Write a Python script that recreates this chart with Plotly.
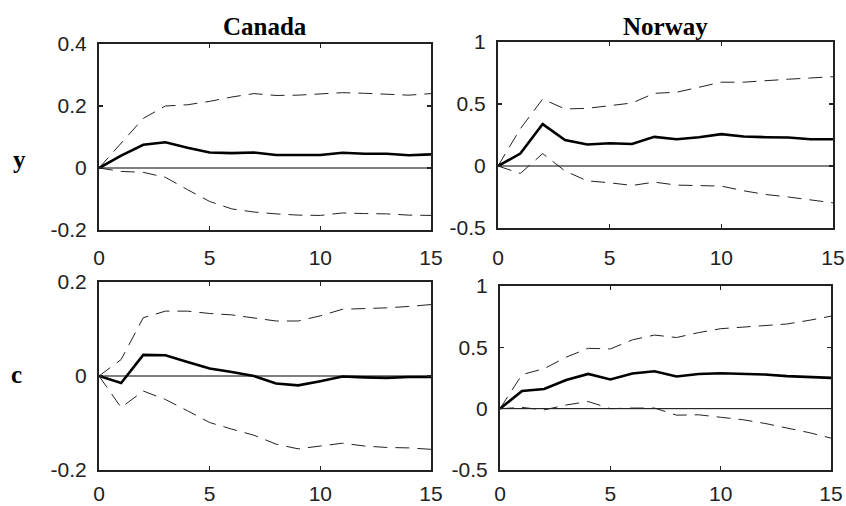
import plotly.graph_objects as go

W, H = 846, 506
OFF = 0  # body margin removed by the post script below

horizon = list(range(16))

# Canada, y
can_y_mid = [0, 0.040, 0.075, 0.083, 0.065, 0.050, 0.048, 0.050, 0.042, 0.042, 0.042, 0.049, 0.046, 0.046, 0.041, 0.044]
can_y_up = [0, 0.080, 0.160, 0.200, 0.204, 0.215, 0.229, 0.240, 0.234, 0.235, 0.239, 0.243, 0.241, 0.239, 0.235, 0.240]
can_y_lo = [0, -0.011, -0.014, -0.030, -0.070, -0.108, -0.132, -0.142, -0.148, -0.152, -0.153, -0.145, -0.147, -0.148, -0.152, -0.153]

# Norway, y
nor_y_mid = [0, 0.10, 0.338, 0.21, 0.173, 0.184, 0.178, 0.235, 0.216, 0.232, 0.257, 0.238, 0.232, 0.230, 0.216, 0.216]
nor_y_up = [0, 0.30, 0.54, 0.46, 0.465, 0.486, 0.508, 0.586, 0.595, 0.635, 0.676, 0.676, 0.69, 0.70, 0.71, 0.72]
nor_y_lo = [0, -0.06, 0.10, -0.04, -0.12, -0.135, -0.157, -0.13, -0.154, -0.16, -0.162, -0.20, -0.23, -0.25, -0.276, -0.297]

# Canada, c
can_c_mid = [0, -0.015, 0.045, 0.044, 0.030, 0.016, 0.0085, 0.0, -0.016, -0.020, -0.011, -0.001, -0.003, -0.004, -0.002, -0.002]
can_c_up = [0, 0.035, 0.124, 0.138, 0.138, 0.133, 0.130, 0.124, 0.117, 0.117, 0.128, 0.142, 0.143, 0.145, 0.148, 0.152]
can_c_lo = [0, -0.067, -0.032, -0.050, -0.074, -0.099, -0.113, -0.126, -0.145, -0.155, -0.149, -0.143, -0.149, -0.152, -0.153, -0.156]

# Norway, c
nor_c_mid = [0, 0.144, 0.160, 0.233, 0.283, 0.238, 0.286, 0.305, 0.262, 0.283, 0.289, 0.283, 0.278, 0.265, 0.257, 0.251]
nor_c_up = [0, 0.278, 0.326, 0.42, 0.492, 0.487, 0.561, 0.60, 0.58, 0.62, 0.652, 0.666, 0.68, 0.69, 0.72, 0.754]
nor_c_lo = [0, 0.01, -0.01, 0.03, 0.058, 0.0, 0.005, 0.005, -0.053, -0.05, -0.07, -0.09, -0.12, -0.155, -0.195, -0.24]

x_ticks = [0, 5, 10, 15]
col_titles = ["Canada", "Norway"]
row_labels = ["y", "c"]

panels = [
    dict(mid=can_y_mid, up=can_y_up, lo=can_y_lo, yr=[-0.2, 0.4], yt=[-0.2, 0, 0.2, 0.4], yl=["-0.2", "0", "0.2", "0.4"], px=(99, 431), py=(44, 230), xs=8),
    dict(mid=nor_y_mid, up=nor_y_up, lo=nor_y_lo, yr=[-0.5, 1], yt=[-0.5, 0, 0.5, 1], yl=["-0.5", "0", "0.5", "1"], px=(498, 833), py=(42, 228), xs=10),
    dict(mid=can_c_mid, up=can_c_up, lo=can_c_lo, yr=[-0.2, 0.2], yt=[-0.2, 0, 0.2], yl=["-0.2", "0", "0.2"], px=(99, 431), py=(282, 470), xs=4),
    dict(mid=nor_c_mid, up=nor_c_up, lo=nor_c_lo, yr=[-0.5, 1], yt=[-0.5, 0, 0.5, 1], yl=["-0.5", "0", "0.5", "1"], px=(500, 831), py=(286, 470), xs=4),
]


def fx(px):
    return (px - OFF) / W


def fy(py):
    return 1 - (py - OFF) / H


fig = go.Figure()
layout = {}
tickfont = dict(family="Liberation Sans, Arial, sans-serif", size=21, color="#222222")

for i, p in enumerate(panels, start=1):
    xa = "x" if i == 1 else f"x{i}"
    ya = "y" if i == 1 else f"y{i}"
    # zero line
    fig.add_trace(go.Scatter(x=[horizon[0], horizon[-1]], y=[0, 0], mode="lines",
                             line=dict(color="black", width=1), xaxis=xa, yaxis=ya,
                             showlegend=False, hoverinfo="skip"))
    for key in ("up", "lo"):
        fig.add_trace(go.Scatter(x=horizon, y=p[key], mode="lines",
                                 line=dict(color="#222222", width=1, dash="14px,8px"),
                                 xaxis=xa, yaxis=ya, showlegend=False))
    fig.add_trace(go.Scatter(x=horizon, y=p["mid"], mode="lines",
                             line=dict(color="black", width=2.6),
                             xaxis=xa, yaxis=ya, showlegend=False))
    x0, x1 = p["px"]
    y0, y1 = p["py"]
    layout["xaxis" if i == 1 else f"xaxis{i}"] = dict(
        domain=[fx(x0), fx(x1)], range=[0, 15], anchor=ya, automargin=False,
        tickmode="array", tickvals=x_ticks, ticktext=[str(t) for t in x_ticks],
        ticks="inside", ticklen=4, tickwidth=1.5, tickcolor="#222222",
        showline=True, linecolor="#222222", linewidth=2, mirror="ticks",
        showgrid=False, zeroline=False, tickfont=tickfont, ticklabelstandoff=p["xs"],
        ticklabeloverflow="allow",
    )
    layout["yaxis" if i == 1 else f"yaxis{i}"] = dict(
        domain=[fy(y1), fy(y0)], range=p["yr"], anchor=xa, automargin=False,
        tickmode="array", tickvals=p["yt"], ticktext=p["yl"],
        ticks="inside", ticklen=4, tickwidth=1.5, tickcolor="#222222",
        showline=True, linecolor="#222222", linewidth=2, mirror="ticks",
        showgrid=False, zeroline=False, tickfont=tickfont, ticklabelstandoff=6,
        ticklabeloverflow="allow",
    )

title_font = dict(family="Liberation Serif, Times New Roman, serif", size=25, color="black")
annotations = [
    dict(text="<b>Canada</b>", x=fx(265), y=fy(26), xref="paper", yref="paper",
         showarrow=False, font=title_font, xanchor="center", yanchor="middle"),
    dict(text="<b>Norway</b>", x=fx(665), y=fy(26), xref="paper", yref="paper",
         showarrow=False, font=title_font, xanchor="center", yanchor="middle"),
    dict(text="<b>y</b>", x=fx(19), y=fy(160), xref="paper", yref="paper",
         showarrow=False, font=title_font, xanchor="center", yanchor="middle"),
    dict(text="<b>c</b>", x=fx(16), y=fy(374), xref="paper", yref="paper",
         showarrow=False, font=title_font, xanchor="center", yanchor="middle"),
]

fig.update_layout(
    width=W, height=H, margin=dict(l=0, r=0, t=0, b=0, autoexpand=False),
    paper_bgcolor="white", plot_bgcolor="white",
    annotations=annotations, **layout,
)

fig.write_html(
    "out.html",
    config={"displayModeBar": False, "staticPlot": True},
    post_script="document.body.style.margin='0';document.body.style.overflow='hidden';",
)
